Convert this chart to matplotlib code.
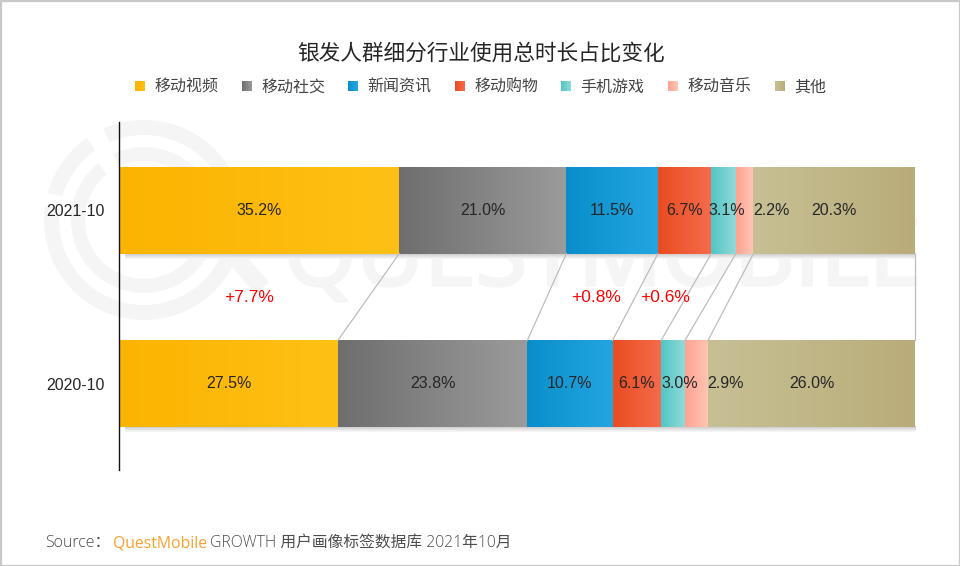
import numpy as np
import matplotlib
matplotlib.use("Agg")
import matplotlib.pyplot as plt
import matplotlib.patheffects as pe
from matplotlib.patches import Rectangle, Wedge
from matplotlib.colors import LinearSegmentedColormap

plt.rcParams['font.family'] = ['Noto Sans CJK SC', 'DejaVu Sans']

# Data
periods = ['2021-10', '2020-10']
categories = ['移动视频', '移动社交', '新闻资讯', '移动购物', '手机游戏', '移动音乐', '其他']
values_2021 = [35.2, 21.0, 11.5, 6.7, 3.1, 2.2, 20.3]
values_2020 = [27.5, 23.8, 10.7, 6.1, 3.0, 2.9, 26.0]
delta_labels = ['+7.7%', '+0.8%', '+0.6%']

# left and right colour of each gradient
colors = [('#fbb400', '#ffc016'), ('#6e6e6e', '#9b9b9b'), ('#0a8ecb', '#23a6e0'),
          ('#e94c21', '#f56c4c'), ('#50c6c4', '#92d9d9'), ('#ffa391', '#ffc6b5'),
          ('#c7c095', '#b9ac79')]

W, H = 960, 566
fig = plt.figure(figsize=(W / 100, H / 100), dpi=100, facecolor='white')

# pixel-coordinate layer for frame, watermark, title and legend
bg = fig.add_axes([0, 0, 1, 1], zorder=0)
bg.set_xlim(0, W)
bg.set_ylim(H, 0)
bg.axis('off')

bg.add_patch(Rectangle((0.5, 0.5), W - 1, H - 1, fill=False, ec='#c8c8c8', lw=1.6))

# watermark (y axis is flipped here, so wedges use negative angles)
wm = '#f5f5f5'
cx, cy = 144, 220
for r, w, a0, a1 in [(100, 15, -114, 48), (100, 15, -164, -125), (100, 15, 48, 188),
                     (73, 14, -115, 40), (73, 14, 40, 231)]:
    bg.add_patch(Wedge((cx, cy), r, a0, a1, width=w, fc=wm, ec='none'))
bg.plot([215, 262], [233, 288], color=wm, lw=13, solid_capstyle='butt')
bg.text(284, 285, 'QUESTMOBILE', fontsize=67, color=wm, family='Open Sans',
        va='baseline', ha='left',
        path_effects=[pe.withStroke(linewidth=2.5, foreground=wm)])

# title
bg.text(481, 54, '银发人群细分行业使用总时长占比变化', fontsize=15.6, color='#262626',
        ha='center', va='center', fontweight='medium')


def gradient(ax, x0, x1, y0, y1, c0, c1, zorder=2, vertical=False):
    cmap = LinearSegmentedColormap.from_list('g', [c0, c1])
    ramp = np.linspace(0, 1, 256)
    ramp = ramp[:, None] if vertical else ramp[None, :]
    ax.imshow(ramp, cmap=cmap, extent=(x0, x1, y1, y0), origin='upper',
              aspect='auto', interpolation='bilinear', zorder=zorder)


# legend
legend_x = [135, 242, 348, 455, 561, 668, 775]
for x, name, (c0, c1) in zip(legend_x, categories, colors):
    gradient(bg, x, x + 10, 81, 91, c0, c1)
    bg.text(x + 19, 87.5, name, fontsize=11.5, color='#444444', ha='left', va='center')
bg.set_xlim(0, W)
bg.set_ylim(H, 0)

# source line
src_y = 543
bg.text(45, src_y, 'Source：', fontsize=11.5, color='#4d4d4d', va='center',
        family=['Open Sans', 'Noto Sans CJK SC'], fontweight='light')
bg.text(113, src_y, 'QuestMobile', fontsize=11.3, color='#f9a02c', va='center',
        family='Open Sans')
bg.text(210, src_y, 'GROWTH 用户画像标签数据库 2021年10月', fontsize=11.3, color='#4d4d4d',
        va='center', family=['Open Sans', 'Noto Sans CJK SC'], fontweight='light')

# chart axes: 0-100 across px 119-915, rows 173.5 px apart
ax = fig.add_axes([119 / W, 1 - 470 / H, (915 - 119) / W, (470 - 122) / H], zorder=1)
ax.patch.set_alpha(0)
bar_h = 0.5
shadow_h = 0.03
label_font = 'Liberation Sans'

# label nudges where the value does not fit its segment
label_shift = [[0, 0, 0, 0, 0.4, 3.4, 0], [0, 0, 0, 0, 0.9, 3.6, 0]]

for row, vals in enumerate([values_2021, values_2020]):
    edges = np.concatenate([[0], np.cumsum(vals)])
    # shadow under the bar
    gradient(ax, 0.7, edges[-1] + 0.1, row + bar_h / 2, row + bar_h / 2 + shadow_h,
             '#c6c6c6', '#fafafa', zorder=1, vertical=True)
    for i, v in enumerate(vals):
        c0, c1 = colors[i]
        gradient(ax, edges[i], edges[i + 1], row - bar_h / 2, row + bar_h / 2, c0, c1)
        ax.text((edges[i] + edges[i + 1]) / 2 + label_shift[row][i], row, f'{v:.1f}%',
                fontsize=11.5, color='#262626', ha='center', va='center',
                family=label_font, zorder=4)

# connectors between the bars
top_edges = np.cumsum(values_2021)
bot_edges = np.cumsum(values_2020)
for a, b in zip(top_edges, bot_edges):
    ax.plot([a, b], [bar_h / 2, 1 - bar_h / 2], color='#bdbdbd', lw=0.9, zorder=3, clip_on=False)

delta_x = [16.3, 59.9, 68.6]
for x, s in zip(delta_x, delta_labels):
    ax.text(x, 0.5, s, color='#ff0000', fontsize=12.5, ha='center', va='center',
            family=label_font, zorder=4)

ax.set_xlim(0, 100)
ax.set_ylim(1.497, -0.509)
ax.set_yticks([0, 1])
ax.set_yticklabels(periods, fontsize=11.4, color='#262626', family=label_font)
ax.tick_params(axis='y', length=0, pad=10)
ax.set_xticks([])
for s in ['top', 'right', 'bottom']:
    ax.spines[s].set_visible(False)
ax.spines['left'].set_color('#111111')
ax.spines['left'].set_linewidth(1)

fig.savefig('out.png', dpi=100)
